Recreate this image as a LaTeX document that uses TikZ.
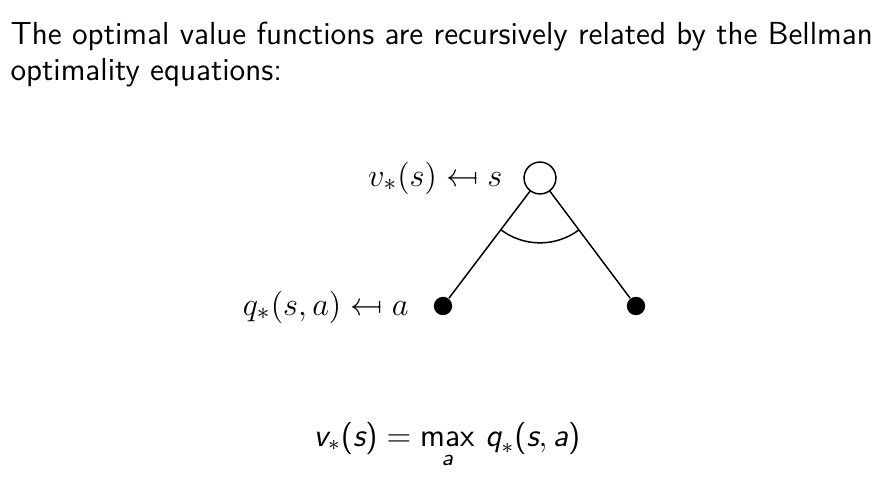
\documentclass[tikz,border=0pt]{standalone}
\usepackage{amsmath}
\usepackage{stmaryrd}
\usetikzlibrary{calc}
\newcommand{\sfv}[1]{\text{\sffamily\itshape #1}}
\begin{document}
\begin{tikzpicture}[x=0.37pt,y=-0.37pt,
  txt/.style={inner sep=0pt,font=\fontsize{11.8}{14.4}\selectfont},
  lbl/.style={inner sep=0pt,font=\fontsize{12.2}{14.6}\selectfont},
  eqn/.style={inner sep=0pt,font=\fontsize{11.9}{14.4}\selectfont},
  opennode/.style={circle,draw,line width=0.55pt,minimum size=11.8pt,inner sep=0pt},
  fullnode/.style={circle,fill,minimum size=6.8pt,inner sep=0pt},
  edge/.style={line width=0.55pt}]
\useasboundingbox (0,0) rectangle (890,477);
\node[txt,anchor=base west] (t1) at (10,44) {\sffamily The optimal value functions are recursively related by the Bellman};
\node[txt,anchor=base west] (t2) at (10,80) {\sffamily optimality equations:};
\node[opennode] (s) at (540,178) {};
\node[fullnode] (a1) at (443,306) {};
\node[fullnode] (a2) at (636,306) {};
\draw[edge] (s) -- (a1);
\draw[edge] (s) -- (a2);
\draw[edge] ([shift={(232.8:24pt)}]s.center) arc[start angle=232.8,end angle=306.9,radius=24pt];
\node[lbl,anchor=base east] (ls) at (503,186) {$v_*(s) \mapsfrom s$};
\node[lbl,anchor=base east] (la) at (409,315) {$q_*(s,a) \mapsfrom a$};
\node[eqn,anchor=base] (eq) at (447,446) {$\sfv{v}_*\textsf{(}\sfv{s}\textsf{)} = \mathop{\textsf{max}}\limits_{\sfv{a}}\, \sfv{q}_*\textsf{(}\sfv{s},\sfv{a}\textsf{)}$};
\end{tikzpicture}
\end{document}
